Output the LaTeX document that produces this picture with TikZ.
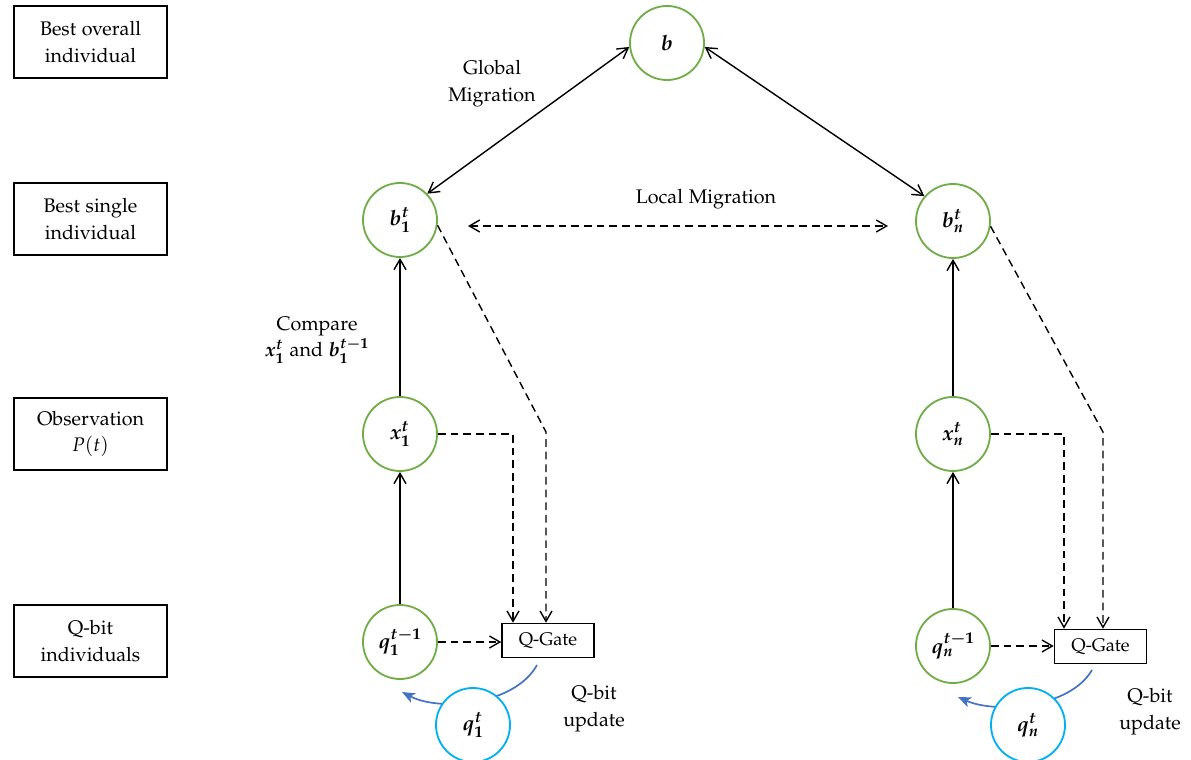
\documentclass[tikz,border=0pt]{standalone}
\usepackage[T1]{fontenc}
\usepackage[sc]{mathpazo}
\usepackage{bm}
\usetikzlibrary{arrows.meta}
\definecolor{cgreen}{RGB}{112,173,71}
\definecolor{ccyan}{RGB}{0,176,240}
\definecolor{cblue}{RGB}{68,114,196}
\begin{document}
\begin{tikzpicture}[x=0.025cm,y=-0.025cm,
  font=\fontsize{14}{19}\selectfont,
  lab/.style={draw, line width=1.1pt, minimum width=3.825cm, minimum height=1.8cm, align=center, inner sep=1pt},
  gc/.style={circle, draw=cgreen, line width=1.3pt, minimum size=1.85cm, inner sep=0pt, fill=white,
             font=\fontsize{15}{19}\selectfont\boldmath},
  bc/.style={gc, draw=ccyan},
  gate/.style={draw, line width=1.1pt, minimum width=2.3cm, minimum height=0.85cm, inner sep=1pt,
               font=\fontsize{13}{16}\selectfont},
  arr/.style={-{Straight Barb[length=2.6mm,width=3mm]}, line width=1pt},
  dbl/.style={{Straight Barb[length=2.6mm,width=3mm]}-{Straight Barb[length=2.6mm,width=3mm]}, line width=1pt},
  dsh/.style={dash pattern=on 5.5pt off 3.5pt},
  txt/.style={align=center, inner sep=0pt},
  upd/.style={draw=cblue, line width=1.2pt, -{Stealth[length=3.2mm,width=2.6mm,inset=0.8mm]}}
]
\useasboundingbox (0,0) rectangle (1191,760);

% left label boxes
\node[lab] (l1) at (90.5,42) {Best overall\\individual};
\node[lab] (l2) at (90.5,219) {Best single\\individual};
\node[lab] (l3) at (90.5,434) {Observation\\$P(t)$};
\node[lab] (l4) at (90.5,641) {Q-bit\\individuals};

% circles
\node[gc] (b)   at (667,43)  {$b$};
\node[gc] (b1)  at (400,220) {$b_1^t$};
\node[gc] (bn)  at (953,221) {$b_n^t$};
\node[gc] (x1)  at (400,434) {$x_1^t$};
\node[gc] (xn)  at (953,434) {$x_n^t$};
\node[gc] (q1o) at (400,642) {$q_1^{t-1}$};
\node[gc] (qno) at (953,646) {$q_n^{t-1}$};

% gates
\node[gate] (g1) at (548,640.5) {Q-Gate};
\node[gate] (gn) at (1100.5,646.5) {Q-Gate};

% solid arrows
\draw[arr] (q1o) -- (x1);
\draw[arr] (x1) -- (b1);
\draw[arr] (qno) -- (xn);
\draw[arr] (xn) -- (bn);

% global migration
\draw[dbl] (b1.44) -- (b.186);
\draw[dbl] (bn.139) -- (b.-6);
\node[txt] (gm) at (492,84) {Global\\Migration};

% local migration
\coordinate (lmA) at (468,226);
\coordinate (lmB) at (888,226);
\draw[dbl, dsh] (lmA) -- (lmB);
\node[txt] (lm) at (706,199) {Local Migration};

% compare label
\node[txt] (cmp) at (317,340) {Compare\\$\bm{x_1^t}$ and $\bm{b_1^{t-1}}$};

% dashed to gates (left)
\coordinate (c1) at (513,434);
\coordinate (c2) at (546,432);
\draw[arr, dsh] (x1.east) -- (c1) -- (c1 |- g1.north);
\draw[arr, dsh] (b1.-8) -- (c2) -- (c2 |- g1.north);
\draw[arr, dsh] (q1o.east) -- (q1o.east -| g1.west);

% dashed to gates (right)
\coordinate (c3) at (1064,434);
\coordinate (c4) at (1103,432);
\draw[arr, dsh] (xn.east) -- (c3) -- (c3 |- gn.north);
\draw[arr, dsh] (bn.-8) -- (c4) -- (c4 |- gn.north);
\draw[arr, dsh] (qno.east) -- (qno.east -| gn.west);

% update curves
\coordinate (u1s) at (537,665);
\coordinate (u1e) at (402,692);
\draw[upd] (u1s) .. controls (515,705) and (440,712) .. (u1e);
\node[bc] (q1) at (473,725) {$q_1^t$};
\node[txt] (qu1) at (594,709) {Q-bit\\update};

\coordinate (uns) at (1092,670);
\coordinate (une) at (958,697);
\draw[upd] (uns) .. controls (1070,708) and (996,714) .. (une);
\node[bc] (qn) at (1028,725) {$q_n^t$};
\node[txt] (qun) at (1150,712) {Q-bit\\update};
\end{tikzpicture}
\end{document}
